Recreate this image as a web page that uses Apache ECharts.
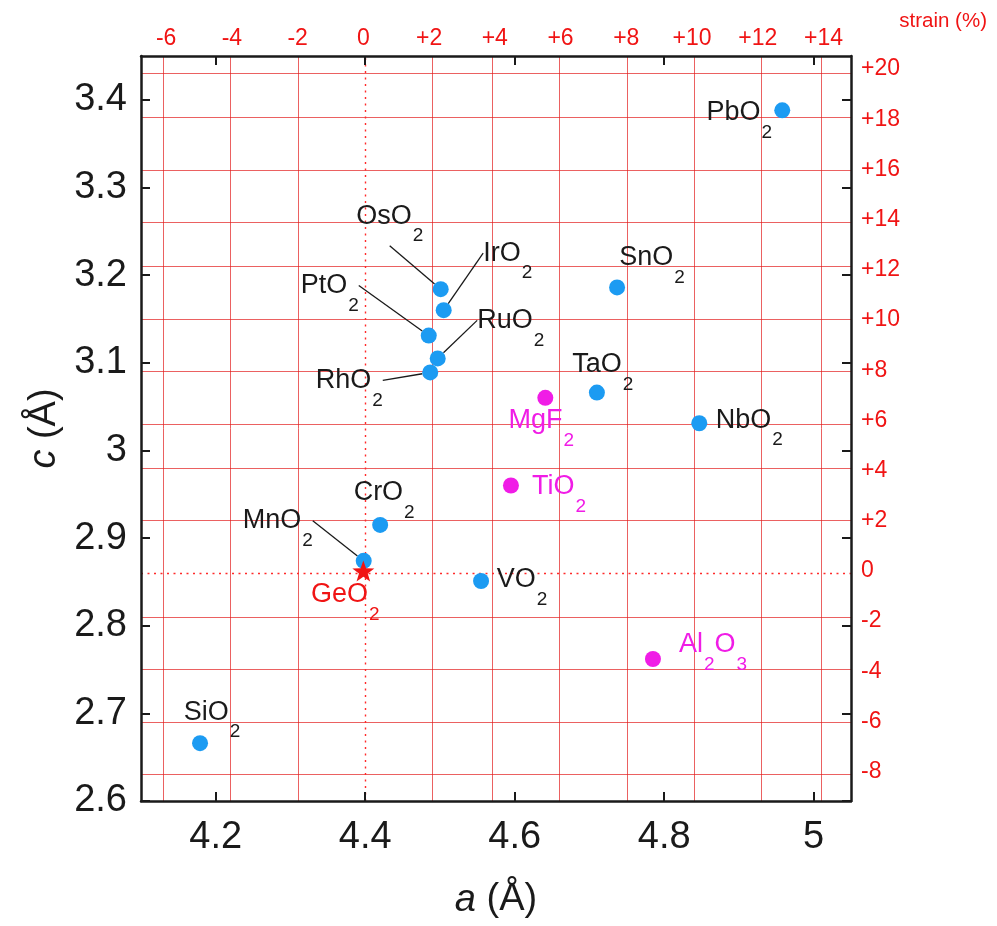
<!DOCTYPE html>
<html><head><meta charset="utf-8">
<script src="https://cdn.jsdelivr.net/npm/echarts@6/dist/echarts.min.js"></script>
<style>html,body{margin:0;padding:0;background:#fff}#c{width:997px;height:926px}</style>
</head><body><div id="c"></div>
<script>
// ---- data ----
const oxideNames = ['PbO2','SnO2','OsO2','IrO2','PtO2','RuO2','RhO2','TaO2','NbO2','CrO2','MnO2','VO2','SiO2'];
const oxideA = [4.958,4.737,4.501,4.505,4.485,4.497,4.487,4.710,4.847,4.420,4.398,4.555,4.179];
const oxideC = [3.388,3.186,3.184,3.160,3.131,3.105,3.089,3.066,3.031,2.915,2.874,2.851,2.666];
const substrateNames = ['MgF2','TiO2','Al2O3'];
const substrateA = [4.641,4.595,4.785];
const substrateC = [3.060,2.960,2.762];
const refNames = ['GeO2'];
const refA = [4.3975];
const refC = [2.8625];
const xTicks = [4.2,4.4,4.6,4.8,5];
const yTicks = [2.6,2.7,2.8,2.9,3.0,3.1,3.2,3.3,3.4];
const strainXTicks = [-6,-4,-2,0,2,4,6,8,10,12,14];
const strainYTicks = [-8,-6,-4,-2,0,2,4,6,8,10,12,14,16,18,20];

// ---- styles / layout ----
const FONT = 'Liberation Sans, Arial, Helvetica, sans-serif';
const BLUE = '#1c9bf2', MAG = '#f01ce6', RED = '#f01414', GRIDRED = 'rgba(226,30,30,0.7)', ZERORED = '#ff2a2a', INK = '#1a1a1a';
const labelOffsets = {PbO2:[-43,2], SnO2:[35,-30], OsO2:[-51,-73], IrO2:[64,-57], PtO2:[-99,-50],
  RuO2:[73,-38], RhO2:[-81,8], TaO2:[6,-28], NbO2:[50,-3], CrO2:[4,-32], MnO2:[-86,-40], VO2:[41,-1],
  SiO2:[12,-31], MgF2:[-4,23], TiO2:[48,1], Al2O3:[60,-14], GeO2:[-18,24]};
const leaderLines = ['OsO2','IrO2','PtO2','RuO2','RhO2','MnO2'];

const a0 = refA[0], c0 = refC[0];
const strainXPos = strainXTicks.map(s => a0 * (1 + s / 100));
const strainYPos = strainYTicks.map(s => c0 * (1 + s / 100));
const fmtStrain = (v, base) => { const s = Math.round((v / base - 1) * 100); return s > 0 ? '+' + s : '' + s; };

function toRich(name) {
  return name.split(/(\d+)/).filter(Boolean).map(t => /\d/.test(t) ? '{s|' + t + '}' : '{m|' + t + '}').join('');
}
function richFor(color) {
  return {
    m: {fontSize: 27, fontFamily: FONT, color: color, lineHeight: 30, verticalAlign: 'middle'},
    s: {fontSize: 19, fontFamily: FONT, color: color, lineHeight: 30, verticalAlign: 'middle', padding: [40, 0, 0, 1]}
  };
}
function scatterSeries(names, A, C, color, textColor, symbol, size, z) {
  return {
    type: 'scatter', z: z, symbol: symbol, symbolSize: size,
    itemStyle: {color: color, opacity: 1},
    data: names.map((n, i) => ({name: n, value: [A[i], C[i]], labelLine: {show: leaderLines.includes(n)}})),
    label: {show: true, position: 'inside', formatter: p => toRich(p.name), rich: richFor(textColor)},
    labelLine: {show: false, lineStyle: {color: INK, width: 1.3}},
    labelLayout: p => { const o = labelOffsets[names[p.dataIndex]]; return {dx: o[0], dy: o[1]}; },
    emphasis: {disabled: true}
  };
}

const axisLineStyle = {show: true, onZero: false, lineStyle: {color: INK, width: 2.5}};
const tickStyle = (vals) => ({show: true, inside: true, length: 9, customValues: vals, lineStyle: {color: INK, width: 2}});

const gridLines = strainXPos.filter((v, i) => strainXTicks[i] !== 0).map(v => ({xAxis: v}))
  .concat(strainYPos.filter((v, i) => strainYTicks[i] !== 0).map(v => ({yAxis: v})));
const zeroLines = [{xAxis: a0}, {yAxis: c0}];

const starPath = 'path://M0,-10 L2.35,-3.24 9.51,-3.09 3.8,1.24 5.88,8.09 0,4 -5.88,8.09 -3.8,1.24 -9.51,-3.09 -2.35,-3.24Z';

const oxides = scatterSeries(oxideNames, oxideA, oxideC, BLUE, INK, 'circle', 16, 3);
oxides.markLine = {silent: true, z: 1, symbol: ['none', 'none'], label: {show: false}, animation: false,
  lineStyle: {type: 'solid', color: GRIDRED, width: 1}, emphasis: {disabled: true}, data: gridLines};
const substrates = scatterSeries(substrateNames, substrateA, substrateC, MAG, MAG, 'circle', 16, 3);
substrates.markLine = {silent: true, z: 1, symbol: ['none', 'none'], label: {show: false}, animation: false,
  lineStyle: {type: [2, 4.5], color: ZERORED, width: 1.4, opacity: 1}, emphasis: {disabled: true}, data: zeroLines};

const nameStyle = {fontSize: 38, color: INK, fontFamily: FONT, rich: {i: {fontStyle: 'italic', fontSize: 38, color: INK, fontFamily: FONT}}};

const option = {
  animation: false,
  backgroundColor: '#fff',
  title: {text: 'strain (%)', right: 5, top: 6, textStyle: {color: RED, fontSize: 20.5, fontWeight: 'normal', fontFamily: FONT}},
  grid: {left: 141, right: 146, top: 56, bottom: 125, containLabel: false},
  xAxis: [
    {type: 'value', position: 'bottom', min: 4.1, max: 5.05, z: 4,
     axisLine: axisLineStyle, axisTick: tickStyle(xTicks),
     axisLabel: {customValues: xTicks, fontSize: 38, color: INK, margin: 18, fontFamily: FONT},
     splitLine: {show: false},
     name: '{i|a} (Å)', nameLocation: 'middle', nameGap: 80, nameTextStyle: nameStyle},
    {type: 'value', position: 'top', min: 4.1, max: 5.05, z: 4,
     axisLine: axisLineStyle, axisTick: tickStyle(xTicks),
     axisLabel: {customValues: strainXPos, formatter: v => fmtStrain(v, a0), fontSize: 23, color: RED, margin: 6, fontFamily: FONT},
     splitLine: {show: false}}
  ],
  yAxis: [
    {type: 'value', position: 'left', min: 2.6, max: 3.45, z: 4,
     axisLine: axisLineStyle, axisTick: tickStyle(yTicks),
     axisLabel: {customValues: yTicks, fontSize: 38, color: INK, margin: 14, fontFamily: FONT},
     splitLine: {show: false},
     name: '{i|c} (Å)', nameLocation: 'middle', nameRotate: 90, nameGap: 76, nameTextStyle: nameStyle},
    {type: 'value', position: 'right', min: 2.6, max: 3.45, z: 4,
     axisLine: axisLineStyle, axisTick: tickStyle(yTicks),
     axisLabel: {customValues: strainYPos, formatter: v => fmtStrain(v, c0), fontSize: 23, color: RED, margin: 10, fontFamily: FONT},
     splitLine: {show: false}}
  ],
  series: [
    oxides,
    substrates,
    scatterSeries(refNames, refA, refC, RED, RED, starPath, [22, 21], 4)
  ]
};
const chart = echarts.init(document.getElementById('c'), null, {renderer: 'canvas'});
chart.setOption(option);
</script></body></html>
